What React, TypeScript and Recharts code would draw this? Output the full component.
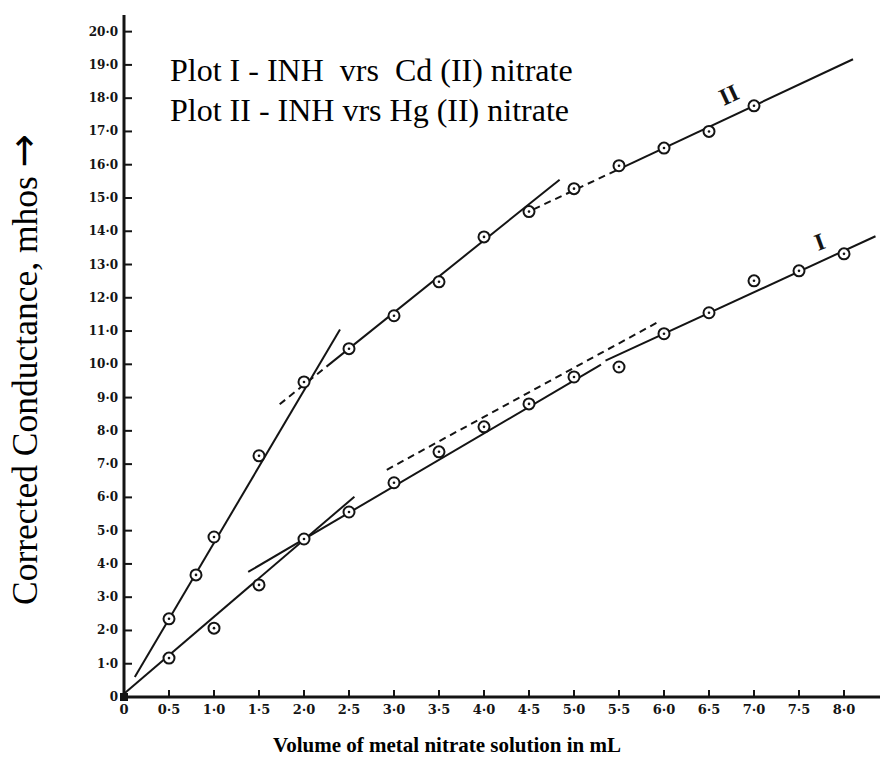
import { ReferenceLine, Scatter, ScatterChart, XAxis, YAxis } from 'recharts'

const volumeTicks = [0, 0.5, 1, 1.5, 2, 2.5, 3, 3.5, 4, 4.5, 5, 5.5, 6, 6.5, 7, 7.5, 8]
const conductanceTicks = [0, 1, 2, 3, 4, 5, 6, 7, 8, 9, 10, 11, 12, 13, 14, 15, 16, 17, 18, 19, 20]

// Plot II - INH vrs Hg (II) nitrate
const hgVolume = [0.5, 0.8, 1.0, 1.5, 2.0, 2.5, 3.0, 3.5, 4.0, 4.5, 5.0, 5.5, 6.0, 6.5, 7.0]
const hgConductance = [2.35, 3.67, 4.81, 7.25, 9.47, 10.47, 11.46, 12.48, 13.83, 14.59, 15.28, 15.97, 16.5, 17.0, 17.77]

// Plot I - INH vrs Cd (II) nitrate
const cdVolume = [0.5, 1.0, 1.5, 2.0, 2.5, 3.0, 3.5, 4.0, 4.5, 5.0, 5.5, 6.0, 6.5, 7.0, 7.5, 8.0]
const cdConductance = [1.17, 2.07, 3.37, 4.75, 5.56, 6.44, 7.37, 8.12, 8.81, 9.62, 9.92, 10.92, 11.55, 12.51, 12.81, 13.32]

const originPoint = [{ x: 0, y: 0 }]

// hand-fitted straight lines: [x1, y1, x2, y2, dashed]
const hgSegments: [number, number, number, number, boolean][] = [
  [0.12, 0.6, 2.4, 11.05, false],
  [1.73, 8.8, 2.25, 9.93, true],
  [2.25, 9.93, 4.84, 15.55, false],
  [4.55, 14.66, 5.4, 15.74, true],
  [5.4, 15.74, 8.1, 19.17, false],
]
const cdSegments: [number, number, number, number, boolean][] = [
  [0, 0.1, 2.56, 6.02, false],
  [1.38, 3.76, 5.3, 9.99, false],
  [2.92, 6.83, 5.92, 11.25, true],
  [5.35, 10.11, 8.35, 13.85, false],
]

const plotLabels = [
  { x: 6.72, y: 18.1, text: 'II', angle: -25 },
  { x: 7.73, y: 13.68, text: 'I', angle: -20 },
]

const toPoints = (xs: number[], ys: number[]) => xs.map((x, i) => ({ x, y: ys[i] }))
const hgPoints = toPoints(hgVolume, hgConductance)
const cdPoints = toPoints(cdVolume, cdConductance)

const fmt = (v: number) => (v === 0 ? '0' : v.toFixed(1).replace('.', '·'))
const ink = '#141414'
const tickFont = '"DejaVu Serif", serif'

function OpenCircle(props: any) {
  const { cx, cy } = props
  return (
    <g>
      <circle cx={cx} cy={cy} r={5.5} fill="#fff" stroke={ink} strokeWidth={2} />
      <circle cx={cx} cy={cy} r={1.3} fill={ink} />
    </g>
  )
}

function OriginSquare(props: any) {
  const { cx, cy } = props
  return <rect x={cx - 4} y={cy - 4} width={8} height={8} fill={ink} />
}

function PlotLabel(props: any) {
  const { cx, cy, payload } = props
  return (
    <text
      x={cx}
      y={cy}
      transform={`rotate(${payload.angle} ${cx} ${cy})`}
      textAnchor="middle"
      dominantBaseline="central"
      fontFamily='"Liberation Serif", serif'
      fontWeight="bold"
      fontSize={24}
      fill={ink}
    >
      {payload.text}
    </text>
  )
}

function YTick(props: any) {
  const { x, y, payload } = props
  return (
    <text x={x} y={y} textAnchor="end" dominantBaseline="central" fontFamily={tickFont} fontWeight="bold" fontSize={12} fill={ink}>
      {fmt(payload.value)}
    </text>
  )
}

function XTick(props: any) {
  const { x, y, payload } = props
  return (
    <text x={x} y={y + 7} textAnchor="middle" dominantBaseline="central" fontFamily={tickFont} fontWeight="bold" fontSize={13} fill={ink}>
      {fmt(payload.value)}
    </text>
  )
}

export default function App() {
  const segments = [...hgSegments, ...cdSegments]
  return (
    <div style={{ position: 'absolute', left: 0, top: 0, width: 886, height: 761, background: '#fff' }}>
      <ScatterChart width={886} height={761} margin={{ top: 15, right: 6, bottom: 34, left: 0 }}>
        <XAxis
          type="number"
          dataKey="x"
          domain={[0, 8.4]}
          ticks={volumeTicks}
          interval={0}
          height={30}
          axisLine={{ stroke: ink, strokeWidth: 3 }}
          tickLine={{ stroke: ink, strokeWidth: 2 }}
          tickSize={-7}
          tickMargin={12}
          tick={<XTick />}
        />
        <YAxis
          type="number"
          dataKey="y"
          domain={[0, 20.5]}
          ticks={conductanceTicks}
          interval={0}
          width={124}
          axisLine={{ stroke: ink, strokeWidth: 3 }}
          tickLine={{ stroke: ink, strokeWidth: 2 }}
          tickSize={-8}
          tickMargin={14}
          tick={<YTick />}
        />
        {segments.map(([x1, y1, x2, y2, dashed], i) => (
          <ReferenceLine
            key={i}
            segment={[{ x: x1, y: y1 }, { x: x2, y: y2 }]}
            stroke={ink}
            strokeWidth={2}
            strokeDasharray={dashed ? '7 5' : undefined}
          />
        ))}
        <Scatter data={hgPoints} shape={OpenCircle} isAnimationActive={false} />
        <Scatter data={cdPoints} shape={OpenCircle} isAnimationActive={false} />
        <Scatter data={originPoint} shape={OriginSquare} isAnimationActive={false} />
        <Scatter data={plotLabels} shape={PlotLabel} isAnimationActive={false} />
      </ScatterChart>
      <svg width={886} height={761} style={{ position: 'absolute', left: 0, top: 0, pointerEvents: 'none' }}>
        <g fontFamily='"Liberation Serif", serif' fill="#000">
          <text x={170} y={81} fontSize={32} style={{ whiteSpace: 'pre' }}>
            {'Plot I - INH  vrs  Cd (II) nitrate'}
          </text>
          <text x={170} y={121} fontSize={32} style={{ whiteSpace: 'pre' }}>
            {'Plot II - INH vrs Hg (II) nitrate'}
          </text>
          <text transform="translate(37 605) rotate(-90)" fontSize={35.5} style={{ whiteSpace: 'pre' }}>
            {'Corrected Conductance, mhos '}
            <tspan fontFamily='"DejaVu Sans", sans-serif' fontSize={40}>→</tspan>
          </text>
          <text x={447} y={752} fontSize={21} fontWeight="bold" textAnchor="middle">
            Volume of metal nitrate solution in mL
          </text>
        </g>
      </svg>
    </div>
  )
}
